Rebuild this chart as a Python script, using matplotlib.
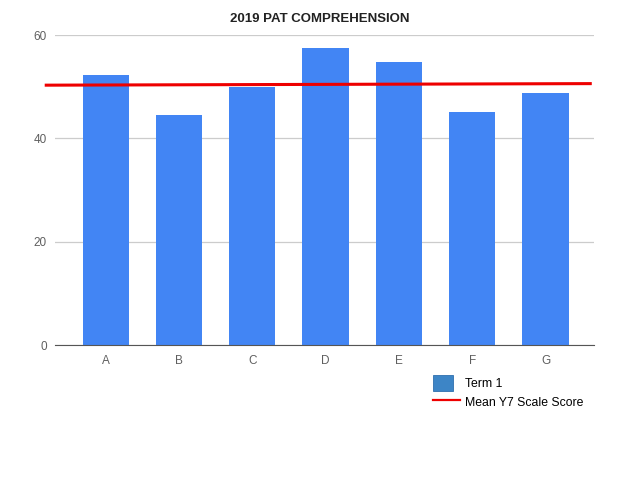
import matplotlib.pyplot as plt
from matplotlib.patches import Patch, Rectangle
from matplotlib.lines import Line2D
from matplotlib.legend_handler import HandlerPatch

plt.rcParams['font.family'] = ['Liberation Sans', 'DejaVu Sans']

groups = ['A', 'B', 'C', 'D', 'E', 'F', 'G']
term1 = [52.3, 44.5, 49.9, 57.5, 54.8, 45.1, 48.7]
mean_x = [-0.81, 6.61]
mean_y = [50.3, 50.6]

fig = plt.figure(figsize=(6.4, 4.8), dpi=100)
ax = fig.add_axes([0.086, 0.281, 0.842, 0.646])

x = range(len(groups))
ax.bar(x, term1, width=0.63, color='#4285f4', zorder=2)
ax.plot(mean_x, mean_y, color='#ee0000', lw=2.2, zorder=3, clip_on=False)

ax.set_xlim(-0.69, 6.66)
ax.set_ylim(0, 60)
ax.set_yticks([0, 20, 40, 60])
ax.set_xticks(list(x))
ax.set_xticklabels(groups)
ax.grid(axis='y', color='#cccccc', lw=0.9, zorder=0)
for s in ['top', 'right', 'left']:
    ax.spines[s].set_visible(False)
ax.spines['bottom'].set_color('#555555')
ax.spines['bottom'].set_zorder(4)
ax.tick_params(length=0, labelsize=8.5, colors='#5f5f5f', pad=7)
ax.tick_params(axis='y', pad=6)

fig.text(0.5, 0.96, '2019 PAT COMPREHENSION', ha='center', va='center',
         fontsize=9.5, fontweight='bold', color='#222222')


# square swatch, narrower than the line handle
def square(legend, orig_handle, xdescent, ydescent, width, height, fontsize):
    return Rectangle((-xdescent, -ydescent), 14.4, height)


handles = [Patch(facecolor='#3d85c6', edgecolor='#2f6fae', lw=0.6),
           Line2D([0], [0], color='#ee0000', lw=1.6)]
fig.legend(handles, ['Term 1', 'Mean Y7 Scale Score'],
           loc='upper left', bbox_to_anchor=(433 / 640, 1 - 375 / 480),
           frameon=False, fontsize=8.8, handlelength=2.2, handleheight=1.6,
           handletextpad=0.45, labelspacing=0.3, borderpad=0, borderaxespad=0,
           handler_map={Patch: HandlerPatch(patch_func=square)})

plt.savefig('out.png')
